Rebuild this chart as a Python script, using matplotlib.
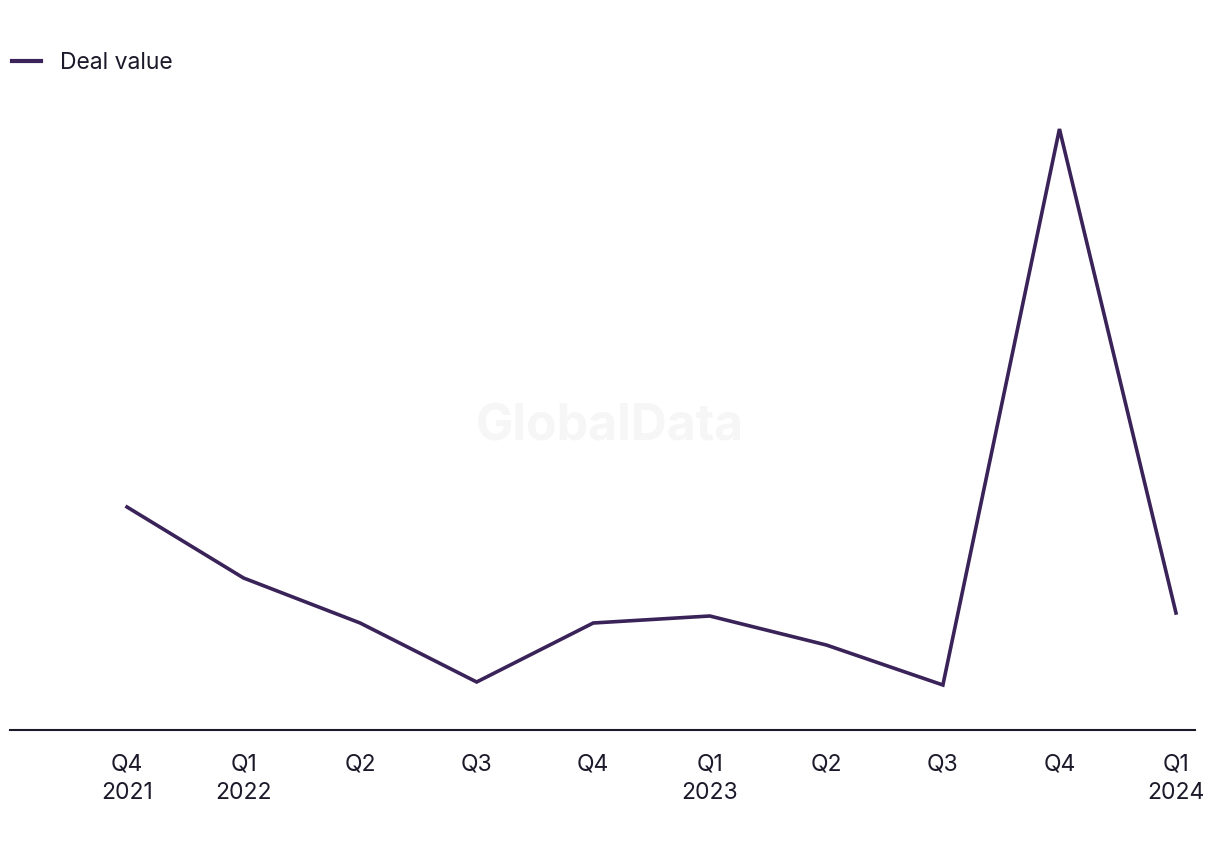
import matplotlib
matplotlib.use("Agg")
import matplotlib.pyplot as plt
from matplotlib.lines import Line2D

plt.rcParams['font.family'] = ['Inter', 'DejaVu Sans']

quarters = ["Q4\n2021", "Q1\n2022", "Q2", "Q3", "Q4", "Q1\n2023", "Q2", "Q3", "Q4", "Q1\n2024"]
deal_value = [223, 152, 107, 48, 107, 114, 85, 45, 601, 117]
series_name = "Deal value"

W, H = 1220, 850
fig = plt.figure(figsize=(W / 100, H / 100), dpi=100)
left, right = 10, 1195
bottom_px, top_px = 730, 80
ax = fig.add_axes([left / W, 1 - bottom_px / H, (right - left) / W, (bottom_px - top_px) / H])

line_color = "#3a2358"
x = list(range(len(quarters)))
ax.plot(x, deal_value, color=line_color, lw=2.6, solid_joinstyle="miter", label=series_name, zorder=3)

spacing = (1176 - 127) / 9
ax.set_xlim(-(127 - left) / spacing, (right - 127) / spacing)
ax.set_ylim(0, bottom_px - top_px)

for s in ["top", "right", "left"]:
    ax.spines[s].set_visible(False)
ax.spines["bottom"].set_color("#1c1a2a")
ax.spines["bottom"].set_linewidth(1.5)
ax.set_yticks([])
ax.set_xticks(x)
ax.set_xticklabels(quarters, fontsize=16.5, color="#1c1a2a", linespacing=1.35)
ax.tick_params(axis="x", length=0, pad=17)

fig.text(610 / W, 1 - 427 / H, "GlobalData", fontsize=36, fontweight="bold",
         color="#f6f6f6", ha="center", va="center", zorder=0)

handle = Line2D([0], [0], color=line_color, lw=3)
fig.legend([handle], [series_name], loc="center left", bbox_to_anchor=(12 / W, 1 - 63 / H),
           frameon=False, fontsize=16.5, handlelength=1.25, handletextpad=0.85,
           borderaxespad=0, borderpad=0.0, labelcolor="#1c1a2a")

fig.savefig("out.png", dpi=100, facecolor="white")
